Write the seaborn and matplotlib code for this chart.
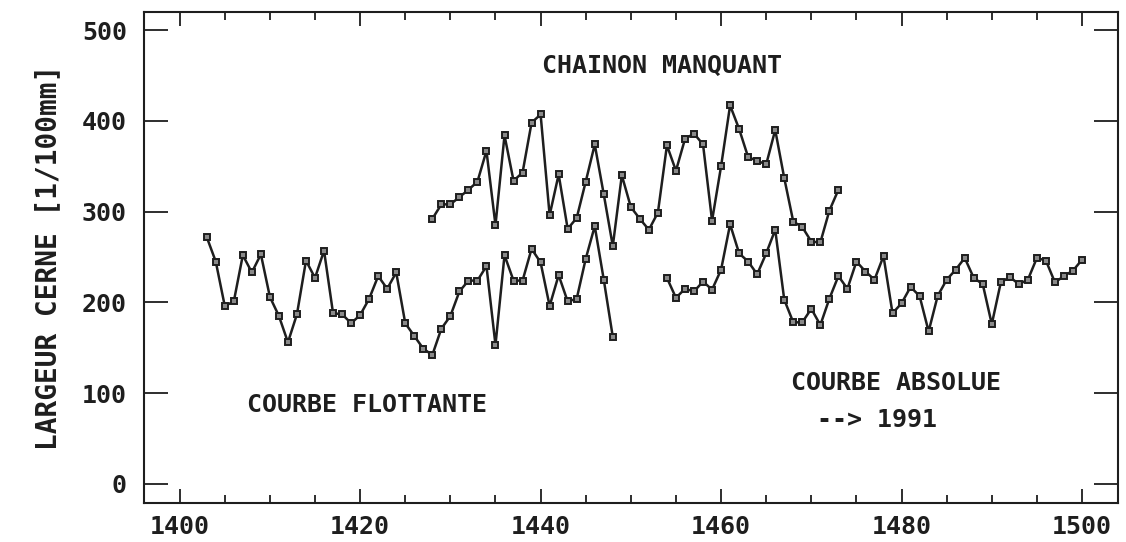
import matplotlib
matplotlib.use("Agg")
import matplotlib.pyplot as plt
from matplotlib.ticker import MultipleLocator
import seaborn as sns
import pandas as pd

# Courbe flottante (1403-1448)
flot_start = 1403
flot_values = [272, 245, 196, 201, 252, 233, 253, 206, 185, 156,
               187, 246, 227, 257, 188, 187, 177, 186, 204, 229,
               215, 233, 177, 163, 149, 142, 171, 185, 212, 224,
               224, 240, 153, 252, 224, 224, 259, 244, 196, 230,
               201, 204, 248, 284, 225, 162]

# Chainon manquant (1428-1473)
chain_start = 1428
chain_values = [292, 308, 308, 316, 324, 333, 367, 285, 384, 334,
                343, 398, 407, 296, 341, 281, 293, 333, 374, 319,
                262, 340, 305, 292, 280, 299, 373, 345, 380, 386,
                374, 290, 350, 417, 391, 360, 356, 352, 390, 337,
                289, 283, 267, 266, 301, 324]

# Courbe absolue (1454-1500)
abs_start = 1454
abs_values = [227, 205, 215, 212, 223, 214, 236, 286, 254, 245,
              231, 254, 280, 203, 178, 178, 193, 175, 204, 229,
              215, 245, 234, 225, 251, 188, 199, 217, 207, 168,
              207, 225, 236, 249, 227, 220, 176, 222, 228, 220,
              225, 249, 246, 222, 229, 235, 247]

x_ticks = [1400, 1420, 1440, 1460, 1480, 1500]
y_ticks = [0, 100, 200, 300, 400, 500]

sns.set_style("ticks")
plt.rcParams['font.family'] = ['DejaVu Sans Mono', 'DejaVu Sans']
plt.rcParams['font.weight'] = 'bold'

fig = plt.figure(figsize=(11.26, 5.42), dpi=100)
ax = fig.add_axes([0.1275, 0.072, 0.8655, 0.906])

ink = "#1e1e1e"
for start, vals in [(flot_start, flot_values), (chain_start, chain_values), (abs_start, abs_values)]:
    df = pd.DataFrame({"year": list(range(start, start + len(vals))), "value": vals})
    sns.lineplot(data=df, x="year", y="value", ax=ax, color=ink, linewidth=1.8,
                 marker="s", markersize=5, markerfacecolor="#8a8a8a",
                 markeredgecolor=ink, markeredgewidth=1.4)

ax.set_xlim(1396, 1504)
ax.set_ylim(-21, 520)
ax.set_xticks(x_ticks)
ax.set_yticks(y_ticks)
ax.xaxis.set_minor_locator(MultipleLocator(5))
ax.tick_params(axis="both", which="both", direction="in", top=True, right=True,
               colors=ink, labelsize=18, width=1.3)
ax.tick_params(axis="y", which="major", length=17, pad=12)
ax.tick_params(axis="x", which="major", length=10, pad=9)
ax.tick_params(axis="x", which="minor", length=6)
for lab in ax.get_xticklabels() + ax.get_yticklabels():
    lab.set_fontweight("bold")
for s in ax.spines.values():
    s.set_linewidth(1.5)
    s.set_color(ink)

ax.set_xlabel("")
ax.set_ylabel("LARGEUR CERNE [1/100mm]", fontsize=20, fontweight="bold", color=ink, labelpad=14)

tkw = dict(fontsize=18, fontweight="bold", color=ink, ha="center", va="center")
ax.text(1453.4, 460, "CHAINON MANQUANT", **tkw)
ax.text(1420.8, 87, "COURBE FLOTTANTE", **tkw)
ax.text(1479.4, 111, "COURBE ABSOLUE", **tkw)
ax.text(1477.3, 70, "--> 1991", **tkw)

fig.savefig("out.png", dpi=100)
